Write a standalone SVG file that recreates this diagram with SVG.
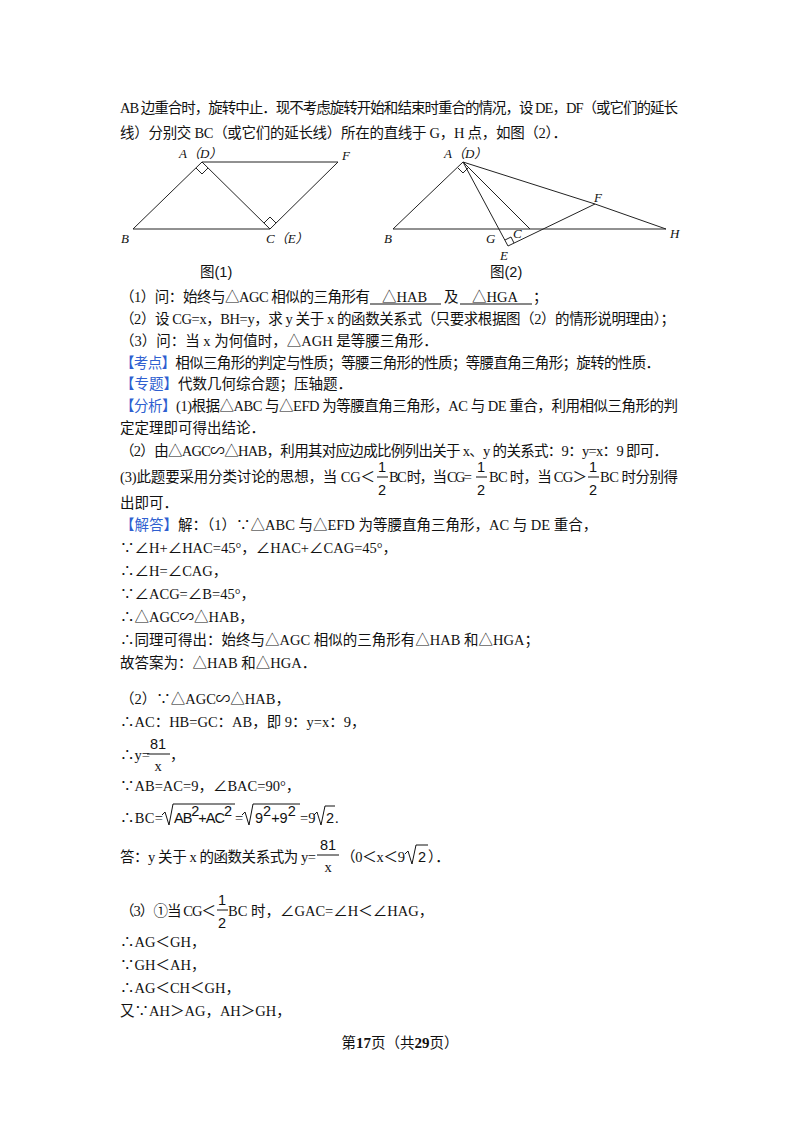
<svg xmlns="http://www.w3.org/2000/svg" width="800" height="1132" viewBox="0 0 800 1132">
<style>
text{font-family:"Liberation Serif","Noto Sans CJK SC",serif;font-size:14.5px;fill:#111}
.b{fill:#2f5fd0}
.s{font-family:"Liberation Sans","Noto Sans CJK SC",sans-serif}
.l{font-style:italic;font-size:13px}
.g line,.g polyline{stroke:#222;stroke-width:1;fill:none}
.u{stroke:#111;stroke-width:1}
</style>
<rect width="800" height="1132" fill="#fff"/>
<text x="120" y="113" textLength="558">AB 边重合时，旋转中止．现不考虑旋转开始和结束时重合的情况，设 DE，DF（或它们的延长</text>
<text x="120" y="138" textLength="447">线）分别交 BC（或它们的延长线）所在的直线于 G，H 点，如图（2）．</text>
<g id="fig1" class="g">
<line x1="133" y1="229" x2="270" y2="229"/>
<line x1="133" y1="229" x2="202" y2="162"/>
<line x1="202" y1="162" x2="270" y2="229"/>
<line x1="202" y1="162" x2="338" y2="162"/>
<line x1="270" y1="229" x2="338" y2="162"/>
<polyline points="196,168 202,174 208,168"/>
<polyline points="264,223 270,217 276,223"/>
</g>
<text class="l" x="179" y="158">A（D）</text>
<text class="l" x="342" y="160">F</text>
<text class="l" x="121" y="243">B</text>
<text class="l" x="266" y="243">C（E）</text>
<text x="200" y="277" class="s" font-size="13">图(1)</text>
<g id="fig2" class="g">
<line x1="393" y1="229" x2="666" y2="229"/>
<line x1="393" y1="229" x2="463" y2="162"/>
<line x1="463" y1="162" x2="530" y2="229"/>
<line x1="463" y1="162" x2="508" y2="246"/>
<line x1="463" y1="162" x2="595" y2="204"/>
<line x1="595" y1="204" x2="666" y2="229" stroke="#999"/>
<line x1="508" y1="246" x2="595" y2="204"/>
<polyline points="458,168 463,173 469,167"/>
<polyline points="505,240 511,237 514,243"/>
</g>
<text class="l" x="444" y="158">A（D）</text>
<text class="l" x="594" y="202">F</text>
<text class="l" x="384" y="243">B</text>
<text class="l" x="486" y="243">G</text>
<text class="l" x="513" y="238">C</text>
<text class="l" x="500" y="260">E</text>
<text class="l" x="670" y="238">H</text>
<text x="490" y="277" class="s" font-size="13">图(2)</text>
<text x="120" y="302" textLength="250">（1）问：始终与△AGC 相似的三角形有</text>
<text x="382" y="302">△HAB</text>
<text x="444" y="302">及</text>
<text x="472" y="302">△HGA</text>
<text x="533" y="302">；</text>
<line class="u" x1="370" y1="304" x2="441" y2="304"/>
<line class="u" x1="460" y1="304" x2="532" y2="304"/>
<text x="120" y="324" textLength="555">（2）设 CG=x，BH=y，求 y 关于 x 的函数关系式（只要求根据图（2）的情形说明理由）；</text>
<text x="120" y="346">（3）问：当 x 为何值时，△AGH 是等腰三角形．</text>
<text x="120" y="368" textLength="540"><tspan class="b">【考点】</tspan>相似三角形的判定与性质；等腰三角形的性质；等腰直角三角形；旋转的性质．</text>
<text x="120" y="389"><tspan class="b">【专题】</tspan>代数几何综合题；压轴题．</text>
<text x="120" y="411" textLength="558"><tspan class="b">【分析】</tspan>(1)根据△ABC 与△EFD 为等腰直角三角形，AC 与 DE 重合，利用相似三角形的判</text>
<text x="120" y="433">定定理即可得出结论．</text>
<text x="120" y="456" textLength="548">（2）由△AGC∽△HAB，利用其对应边成比例列出关于 x、y 的关系式：9：y=x：9 即可．</text>
<text x="120" y="482" textLength="255">(3)此题要采用分类讨论的思想，当 CG＜</text>
<text x="389" y="482" textLength="83">BC 时，当 CG=</text>
<text x="489" y="482" textLength="98">BC 时，当 CG＞</text>
<text x="600" y="482" textLength="78">BC 时分别得</text>
<g>
<text x="382" y="472" text-anchor="middle" class="s" font-size="14">1</text><line class="u" x1="377" y1="477" x2="388" y2="477"/><text x="382" y="495" text-anchor="middle" class="s" font-size="14">2</text>
<text x="481" y="472" text-anchor="middle" class="s" font-size="14">1</text><line class="u" x1="476" y1="477" x2="487" y2="477"/><text x="481" y="495" text-anchor="middle" class="s" font-size="14">2</text>
<text x="593" y="472" text-anchor="middle" class="s" font-size="14">1</text><line class="u" x1="588" y1="477" x2="599" y2="477"/><text x="593" y="495" text-anchor="middle" class="s" font-size="14">2</text>
</g>
<text x="120" y="508">出即可．</text>
<text x="120" y="530"><tspan class="b">【解答】</tspan>解：（1）∵△ABC 与△EFD 为等腰直角三角形，AC 与 DE 重合，</text>
<text x="120" y="553">∵∠H+∠HAC=45°，∠HAC+∠CAG=45°，</text>
<text x="120" y="576">∴∠H=∠CAG，</text>
<text x="120" y="599">∵∠ACG=∠B=45°，</text>
<text x="120" y="622">∴△AGC∽△HAB，</text>
<text x="120" y="645">∴同理可得出：始终与△AGC 相似的三角形有△HAB 和△HGA；</text>
<text x="120" y="668">故答案为：△HAB 和△HGA．</text>
<text x="120" y="704">（2）∵△AGC∽△HAB，</text>
<text x="120" y="727">∴AC：HB=GC：AB，即 9：y=x：9，</text>
<text x="120" y="760">∴y=</text>
<text x="158" y="749" text-anchor="middle" class="s" font-size="14">81</text>
<line class="u" x1="147" y1="754" x2="170" y2="754"/>
<text x="158" y="771" text-anchor="middle" font-size="14">x</text>
<text x="170" y="760">，</text>
<text x="120" y="791">∵AB=AC=9，∠BAC=90°，</text>
<text x="120" y="823" textLength="43">∴BC=</text>
<polyline points="162,815 165,812 169,825 173,804 235,804" fill="none" stroke="#111"/>
<text x="174" y="823" class="s" font-size="12" textLength="58">AB<tspan dy="-7">2</tspan><tspan dy="7">+AC</tspan><tspan dy="-7">2</tspan></text>
<text x="235" y="823">=</text>
<polyline points="242,815 245,812 249,825 253,804 300,804" fill="none" stroke="#111"/>
<text x="255" y="823" class="s" font-size="13">9<tspan dy="-7">2</tspan><tspan dy="7">+9</tspan><tspan dy="-7">2</tspan></text>
<text x="300" y="823">=9</text>
<polyline points="314,815 317,812 321,825 325,806 335,806" fill="none" stroke="#111"/>
<text x="326" y="823" class="s" font-size="13">2</text>
<text x="335" y="823">.</text>
<text x="120" y="862" textLength="196">答：y 关于 x 的函数关系式为 y=</text>
<text x="328" y="850" text-anchor="middle" class="s" font-size="14">81</text>
<line class="u" x1="317" y1="855" x2="339" y2="855"/>
<text x="328" y="872" text-anchor="middle" font-size="14">x</text>
<text x="341" y="862" textLength="64">（0＜x＜9</text>
<polyline points="405,854 408,851 412,864 416,845 428,845" fill="none" stroke="#111"/>
<text x="418" y="862" class="s" font-size="13">2</text>
<text x="428" y="862">）．</text>
<text x="120" y="916" textLength="96">（3）①当 CG＜</text>
<text x="228" y="916">BC 时，∠GAC=∠H＜∠HAG，</text>
<text x="222" y="905" text-anchor="middle" class="s" font-size="14">1</text>
<line class="u" x1="217" y1="910" x2="228" y2="910"/>
<text x="222" y="928" text-anchor="middle" class="s" font-size="14">2</text>
<text x="120" y="947">∴AG＜GH，</text>
<text x="120" y="970">∵GH＜AH，</text>
<text x="120" y="993">∴AG＜CH＜GH，</text>
<text x="120" y="1016">又∵AH＞AG，AH＞GH，</text>
<text x="400" y="1048" text-anchor="middle" font-size="13">第<tspan font-weight="bold" font-size="15">17</tspan>页（共<tspan font-weight="bold" font-size="15">29</tspan>页）</text>
</svg>
